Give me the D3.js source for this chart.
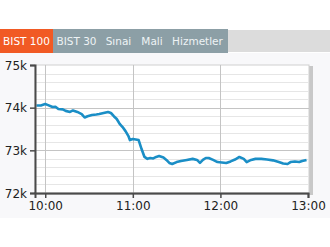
<!DOCTYPE html>
<html>
<head>
<meta charset="utf-8">
<script src="https://cdn.jsdelivr.net/npm/d3@7"></script>
<style>
  body { margin: 0; background: #fff; }
  svg { display: block; font-family: "DejaVu Sans", Verdana, sans-serif; }
</style>
</head>
<body>
<svg id="chart" width="330" height="247"></svg>
<script>
// tabs across the top
const tabLabels = ['BIST 100', 'BIST 30', 'Sınai', 'Mali', 'Hizmetler'];
const activeTab = 0;

// intraday index, time as "HH:MM", value in points
const times = ['09:54','09:57','10:00','10:02','10:05','10:07','10:09','10:12','10:14','10:17','10:19','10:22',
  '10:25','10:27','10:29','10:32','10:35','10:37','10:40','10:43','10:45','10:47','10:49','10:51','10:53',
  '10:55','10:57','10:58','11:00','11:02','11:04','11:06','11:08','11:10','11:12','11:14','11:16','11:18',
  '11:21','11:23','11:25','11:27','11:30','11:33','11:37','11:41','11:44','11:46','11:48','11:50','11:52',
  '11:55','11:58','12:01','12:04','12:07','12:10','12:13','12:16','12:18','12:21','12:24','12:28','12:32',
  '12:36','12:40','12:43','12:46','12:48','12:51','12:54','12:56','12:59'];
const values = [74050,74050,74085,74060,74015,74020,73970,73960,73925,73900,73935,73900,
  73850,73770,73800,73830,73840,73850,73875,73900,73875,73800,73735,73620,73545,
  73450,73335,73240,73265,73255,73240,73030,72845,72800,72820,72810,72845,72865,
  72830,72775,72705,72680,72725,72750,72775,72800,72775,72705,72775,72820,72820,
  72775,72725,72715,72705,72740,72785,72845,72800,72725,72775,72800,72800,72785,
  72765,72725,72690,72680,72725,72740,72725,72750,72775];

const yTicks = [72000, 73000, 74000, 75000];
const xTicks = ['10:00', '11:00', '12:00', '13:00'];

const parse = d3.timeParse('%H:%M');
const data = times.map((t, i) => ({ t: parse(t), v: values[i] }));

const svg = d3.select('#chart');
const W = 330;
const plot = { left: 35, right: 309, top: 65, bottom: 193 };

// tab bar
svg.append('rect').attr('x', 0).attr('y', 30).attr('width', W).attr('height', 22).attr('fill', '#dcdcdc');
const tabX = [0, 53, 100, 137, 167, 228];
tabLabels.forEach((label, i) => {
  svg.append('rect')
    .attr('x', tabX[i]).attr('y', 29)
    .attr('width', tabX[i + 1] - tabX[i]).attr('height', 24)
    .attr('fill', i === activeTab ? '#f15a24' : '#8c9fa6');
  svg.append('text')
    .attr('x', (tabX[i] + tabX[i + 1]) / 2).attr('y', 45)
    .attr('text-anchor', 'middle')
    .attr('font-size', '10.5px')
    .attr('fill', i === activeTab ? '#fff' : '#eef3f5')
    .text(label);
});

// chart panel
svg.append('rect').attr('x', 0).attr('y', 53).attr('width', W).attr('height', 165).attr('fill', '#f8f8fa');

const x = d3.scaleTime()
  .domain([parse('09:53'), parse('13:00')])
  .range([plot.left, plot.right - 1]);
const y = d3.scaleLinear().domain([72000, 75000]).range([plot.bottom, plot.top]);

// plot shadow + background
svg.append('rect')
  .attr('x', plot.left + 2).attr('y', plot.top + 1)
  .attr('width', plot.right - plot.left + 2).attr('height', plot.bottom - plot.top + 1)
  .attr('fill', '#c8c8c8');
svg.append('rect')
  .attr('x', plot.left).attr('y', plot.top)
  .attr('width', plot.right - plot.left).attr('height', plot.bottom - plot.top)
  .attr('fill', '#fff').attr('stroke', '#cfcfcf');

// minor horizontal grid every 200
svg.append('g')
  .selectAll('line')
  .data(d3.range(72000, 75001, 200).filter(v => v % 1000 !== 0))
  .join('line')
  .attr('x1', plot.left).attr('x2', plot.right)
  .attr('y1', d => Math.round(y(d)) + 0.5).attr('y2', d => Math.round(y(d)) + 0.5)
  .attr('stroke', '#e6e6e6');

// major horizontal grid
svg.append('g')
  .selectAll('line')
  .data(yTicks.slice(1, -1))
  .join('line')
  .attr('x1', plot.left).attr('x2', plot.right)
  .attr('y1', d => Math.round(y(d)) + 0.5).attr('y2', d => Math.round(y(d)) + 0.5)
  .attr('stroke', '#c4c4c4');

// vertical grid at hours
svg.append('g')
  .selectAll('line')
  .data(xTicks.slice(0, -1).map(parse))
  .join('line')
  .attr('x1', d => Math.round(x(d)) + 0.5).attr('x2', d => Math.round(x(d)) + 0.5)
  .attr('y1', plot.top).attr('y2', plot.bottom)
  .attr('stroke', '#c4c4c4');

// the line
svg.append('path')
  .datum(data)
  .attr('fill', 'none')
  .attr('stroke', '#1a8ec6')
  .attr('stroke-width', 2.6)
  .attr('stroke-linejoin', 'round')
  .attr('d', d3.line().x(d => x(d.t)).y(d => y(d.v)));

// axes
const yAxis = svg.append('g')
  .attr('transform', `translate(${plot.left},0)`)
  .call(d3.axisLeft(y).tickValues(yTicks).tickFormat(d => d / 1000 + 'k').tickSize(5).tickPadding(3));
const xAxis = svg.append('g')
  .attr('transform', `translate(0,${plot.bottom})`)
  .call(d3.axisBottom(x).tickValues(xTicks.map(parse)).tickFormat(d3.timeFormat('%H:%M')).tickSize(5).tickPadding(3));

[yAxis, xAxis].forEach(a => {
  a.select('.domain').attr('stroke', '#4a4a4a').attr('stroke-width', 2);
  a.selectAll('.tick line').attr('stroke', '#4a4a4a').attr('stroke-width', 1.5);
  a.selectAll('.tick text').attr('fill', '#222').attr('font-size', '12px')
    .attr('font-family', '"DejaVu Sans", Verdana, sans-serif');
});
yAxis.selectAll('.tick text').attr('dy', '0.35em');
</script>
</body>
</html>
